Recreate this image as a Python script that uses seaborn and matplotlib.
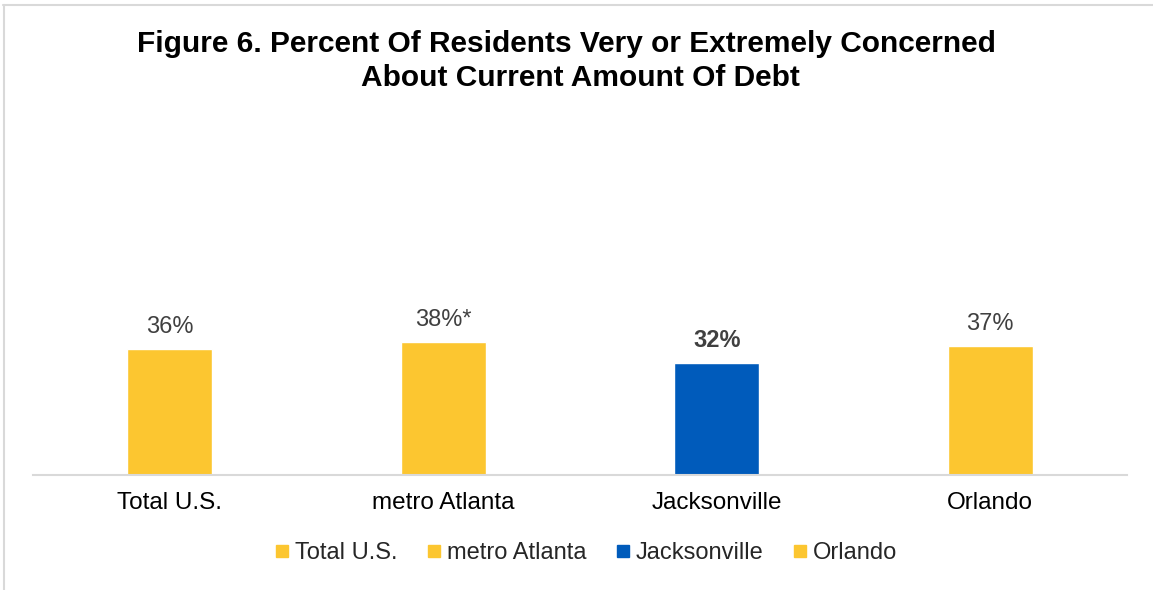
import matplotlib
matplotlib.use("Agg")
import matplotlib.pyplot as plt
from matplotlib.lines import Line2D
import seaborn as sns
import pandas as pd

categories = ["Total U.S.", "metro Atlanta", "Jacksonville", "Orlando"]
values = [36, 38, 32, 37]
value_labels = ["36%", "38%*", "32%", "37%"]
bold_labels = [False, False, True, False]
colors = ["#FCC630", "#FCC630", "#005BBB", "#FCC630"]

sns.set_theme(style="white")
plt.rcParams["font.family"] = ["Liberation Sans", "DejaVu Sans"]

df = pd.DataFrame({"region": categories, "pct": values})

W, H = 1153, 590
fig = plt.figure(figsize=(W / 100, H / 100), dpi=100)
ax = fig.add_axes([33 / W, (H - 475) / H, 1094 / W, 349 / H])

sns.barplot(data=df, x="region", y="pct", hue="region", order=categories,
            hue_order=categories, palette=colors, width=0.31, dodge=False,
            legend=False, ax=ax, saturation=1)

ax.set_ylim(0, 100)
ax.set_xlim(-0.5, len(categories) - 0.5)
ax.set_xlabel("")
ax.set_ylabel("")
ax.set_yticks([])
for side in ("left", "right", "top"):
    ax.spines[side].set_visible(False)
ax.spines["bottom"].set_color("#D9D9D9")
ax.spines["bottom"].set_linewidth(1.5)
ax.tick_params(axis="x", length=0, pad=12.5, labelsize=17.5, labelcolor="#000000")

for i, (v, lab, b) in enumerate(zip(values, value_labels, bold_labels)):
    ax.annotate(lab, (i, v), xytext=(0, 11.5), textcoords="offset points",
                ha="center", va="baseline", fontsize=17, color="#404040",
                fontweight="bold" if b else "normal")

fig.text(566 / W, 1 - 44 / H,
         "Figure 6. Percent Of Residents Very or Extremely Concerned",
         ha="center", va="center", fontsize=21.5, fontweight="bold", color="#000000")
fig.text(580 / W, 1 - 78 / H,
         "About Current Amount Of Debt",
         ha="center", va="center", fontsize=21.5, fontweight="bold", color="#000000")

handles = [Line2D([0], [0], marker="s", linestyle="none", markersize=9,
                  markerfacecolor=c, markeredgecolor=c) for c in colors]
fig.legend(handles, categories, loc="center", bbox_to_anchor=(586 / W, 1 - 553 / H),
           ncol=4, frameon=False, fontsize=17, handlelength=0.6,
           handletextpad=0.25, columnspacing=1.25)

# outer frame lines (top and left edges)
fig.add_artist(Line2D([3 / W, 1], [1 - 5 / H, 1 - 5 / H], transform=fig.transFigure,
                      color="#D9D9D9", linewidth=1.5))
fig.add_artist(Line2D([4 / W, 4 / W], [0, 1 - 5 / H], transform=fig.transFigure,
                      color="#D9D9D9", linewidth=1.5))

fig.savefig("out.png", dpi=100)
